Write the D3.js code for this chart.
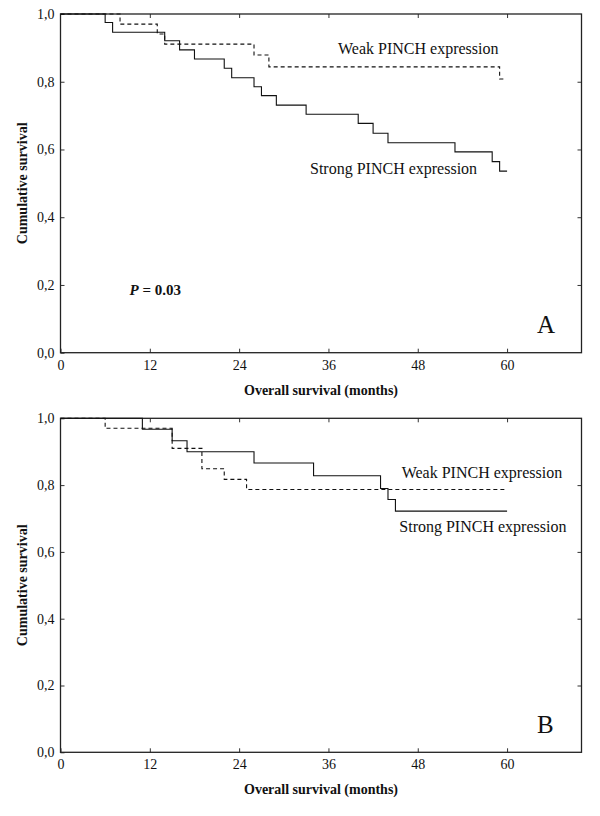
<!DOCTYPE html>
<html>
<head>
<meta charset="utf-8">
<script src="https://cdn.jsdelivr.net/npm/d3@7"></script>
<style>
  html, body { margin: 0; padding: 0; background: #fff; }
  svg { display: block; }
  text { font-family: "Liberation Serif", "Times New Roman", serif; fill: #111; }
</style>
</head>
<body>
<svg id="chart" width="600" height="816"></svg>
<script>
// ---- data ----
const xTicks = [0, 12, 24, 36, 48, 60];
const yTicks = [0, 0.2, 0.4, 0.6, 0.8, 1.0];

// Panel A
const aStrongTime = [0, 6, 7, 14, 16, 18, 22, 23, 26, 27, 29, 33, 40, 42, 44, 53, 58, 59, 60];
const aStrongSurv = [1, 0.975, 0.946, 0.921, 0.894, 0.867, 0.84, 0.812, 0.785, 0.759, 0.731, 0.704, 0.677, 0.648, 0.62, 0.593, 0.564, 0.536, 0.536];
const aWeakTime = [0, 8, 13, 14, 26, 28, 59, 59.5];
const aWeakSurv = [1, 0.97, 0.941, 0.911, 0.879, 0.844, 0.808, 0.808];

// Panel B
const bStrongTime = [0, 11, 15, 17, 26, 34, 43, 44, 45, 60];
const bStrongSurv = [1, 0.967, 0.933, 0.9, 0.866, 0.828, 0.79, 0.757, 0.722, 0.722];
const bWeakTime = [0, 6, 15, 19, 22, 25, 60];
const bWeakSurv = [1, 0.97, 0.91, 0.849, 0.817, 0.787, 0.787];

const seriesLabels = ["Weak PINCH expression", "Strong PINCH expression"];
const panelLetters = ["A", "B"];
const xTitle = "Overall survival (months)";
const yTitle = "Cumulative survival";
const pValue = "0.03";

// ---- drawing ----
const svg = d3.select("#chart");
const fmtY = v => d3.format(".1f")(v).replace(".", ",");

function panel(cfg) {
  const x = d3.scaleLinear().domain([0, 70]).range([60.5, 581.5]);
  const y = d3.scaleLinear().domain([0, 1]).range([cfg.bottom, cfg.top]);
  const g = svg.append("g");

  // axes
  const ax = g.append("g").attr("class", "axes");
  ax.append("g").attr("transform", `translate(0,${y(0)})`)
    .call(d3.axisBottom(x).tickValues(xTicks).tickSize(-4).tickSizeOuter(0).tickPadding(7))
    .call(s => s.select(".domain").remove())
    .call(s => s.selectAll("text").style("font-size", "14px").style("font-family", "Liberation Serif, serif"));
  ax.append("g").attr("transform", `translate(0,${y(1)})`)
    .call(d3.axisTop(x).tickValues(xTicks.slice(1)).tickSize(-4).tickSizeOuter(0).tickFormat(""))
    .call(s => s.select(".domain").remove());
  ax.append("g").attr("transform", `translate(${x(0)},0)`)
    .call(d3.axisLeft(y).tickValues(yTicks).tickSize(-4).tickSizeOuter(0).tickPadding(6).tickFormat(fmtY))
    .call(s => s.select(".domain").remove())
    .call(s => s.selectAll("text").style("font-size", "14px").style("font-family", "Liberation Serif, serif"));
  ax.append("g").attr("transform", `translate(${x(70)},0)`)
    .call(d3.axisRight(y).tickValues(yTicks.slice(1, 5)).tickSize(-4).tickSizeOuter(0).tickFormat(""))
    .call(s => s.select(".domain").remove());
  ax.selectAll(".tick line").attr("stroke", "#333");

  g.append("rect")
    .attr("x", x(0)).attr("y", y(1))
    .attr("width", x(70) - x(0)).attr("height", y(0) - y(1))
    .attr("fill", "none").attr("stroke", "#222").attr("stroke-width", 1.3);

  const line = d3.line().x(d => x(d[0])).y(d => y(d[1])).curve(d3.curveStepAfter);
  const weak = d3.zip(cfg.weakT, cfg.weakS);
  const strong = d3.zip(cfg.strongT, cfg.strongS);
  g.append("path").datum(weak).attr("d", line)
    .attr("fill", "none").attr("stroke", "#111").attr("stroke-width", 1.1)
    .attr("stroke-dasharray", "4,3");
  g.append("path").datum(strong).attr("d", line)
    .attr("fill", "none").attr("stroke", "#111").attr("stroke-width", 1.1);

  // series labels
  g.append("text").attr("x", cfg.weakLab[0]).attr("y", cfg.weakLab[1])
    .style("font-size", "16px").text(seriesLabels[0]);
  g.append("text").attr("x", cfg.strongLab[0]).attr("y", cfg.strongLab[1])
    .style("font-size", "16px").text(seriesLabels[1]);

  // panel letter
  g.append("text").attr("x", 537).attr("y", y(0) - 19.5)
    .style("font-size", "25px").text(cfg.letter);

  // axis titles
  g.append("text").attr("x", 321).attr("y", y(0) + 41.8)
    .attr("text-anchor", "middle").style("font-size", "14px").style("font-weight", "bold")
    .text(xTitle);
  g.append("text")
    .attr("transform", `translate(26.5,${(y(0) + y(1)) / 2}) rotate(-90)`)
    .attr("text-anchor", "middle").style("font-size", "14px").style("font-weight", "bold")
    .text(yTitle);

  if (cfg.p) {
    const t = g.append("text").attr("x", 129.5).attr("y", 295)
      .style("font-size", "15px").style("font-weight", "bold");
    t.append("tspan").style("font-style", "italic").text("P");
    t.append("tspan").text(" = " + pValue);
  }
}

panel({
  top: 14, bottom: 352.7, letter: panelLetters[0], p: true,
  weakT: aWeakTime, weakS: aWeakSurv, strongT: aStrongTime, strongS: aStrongSurv,
  weakLab: [338, 54.3], strongLab: [310, 174.3]
});
panel({
  top: 418.3, bottom: 752.3, letter: panelLetters[1], p: false,
  weakT: bWeakTime, weakS: bWeakSurv, strongT: bStrongTime, strongS: bStrongSurv,
  weakLab: [401.7, 478.3], strongLab: [399.3, 531.7]
});
</script>
</body>
</html>
